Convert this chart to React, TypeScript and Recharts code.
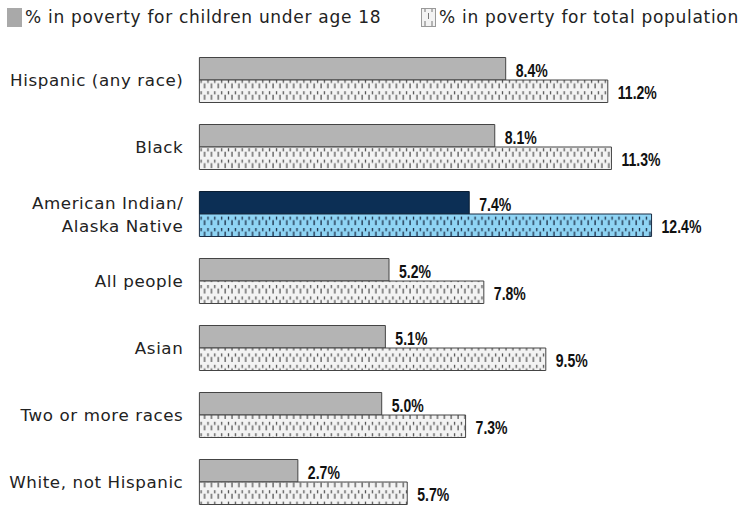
import { BarChart, Bar, XAxis, YAxis, Cell, LabelList } from "recharts";

const categories = [
  "Hispanic (any race)",
  "Black",
  "American Indian/ Alaska Native",
  "All people",
  "Asian",
  "Two or more races",
  "White, not Hispanic",
];
const childrenPct = [8.4, 8.1, 7.4, 5.2, 5.1, 5.0, 2.7];
const totalPct = [11.2, 11.3, 12.4, 7.8, 9.5, 7.3, 5.7];
const highlight = "American Indian/ Alaska Native";

const data = categories.map((name, i) => ({
  name,
  children: childrenPct[i],
  total: totalPct[i],
}));

const labelFont = "'DejaVu Sans', 'Open Sans', sans-serif";

function CategoryTick(props: any) {
  const { x, y, payload } = props;
  const text: string = payload.value;
  const lines = text.includes("/ ") ? [text.split("/ ")[0] + "/", text.split("/ ")[1]] : [text];
  const lh = 23;
  const start = y - ((lines.length - 1) * lh) / 2;
  return (
    <text
      x={x}
      y={start}
      textAnchor="end"
      fill="#222"
      fontSize={16.7}
      letterSpacing={0.6}
      fontFamily={labelFont}
      dominantBaseline="central"
    >
      {lines.map((l, i) => (
        <tspan key={i} x={x} dy={i === 0 ? 0 : lh}>
          {l}
        </tspan>
      ))}
    </text>
  );
}

function ValueLabel(props: any) {
  const { x, y, width, height, value } = props;
  return (
    <text
      transform={`translate(${x + width + 10},${y + height / 2 + 1.5}) scale(0.74,1)`}
      x={0}
      y={0}
      fill="#111"
      fontSize={19}
      fontWeight="bold"
      fontFamily="'Liberation Sans', Arial, sans-serif"
      dominantBaseline="central"
    >
      {`${Number(value).toFixed(1)}%`}
    </text>
  );
}

function PatternDefs() {
  const ticks = (color: string, bg: string, id: string) => (
    <pattern id={id} width={13.7} height={11.4} patternUnits="userSpaceOnUse">
      <rect x={0} y={0} width={13.7} height={11.4} fill={bg} />
      <line x1={2.5} y1={0} x2={2.5} y2={3.2} stroke={color} strokeWidth={1.3} />
      <line x1={6} y1={3.5} x2={6} y2={8.5} stroke={color} strokeWidth={1.3} />
      <line x1={9.3} y1={0} x2={9.3} y2={3.2} stroke={color} strokeWidth={1.3} />
      <line x1={12.8} y1={3.5} x2={12.8} y2={8.5} stroke={color} strokeWidth={1.3} />
    </pattern>
  );
  return (
    <defs>
      {ticks("#555", "#f3f3f3", "grayDash")}
      {ticks("#1a2c44", "#8fd4f4", "blueDash")}
    </defs>
  );
}

function Legend() {
  const item = (fill: string, label: string, left: number) => (
    <div style={{ position: "absolute", left, top: 7, display: "flex", alignItems: "center" }}>
      <svg width={15} height={19} style={{ marginRight: 3 }}>
        {fill === "pattern" ? (
          <g>
            <rect x={0.5} y={0.5} width={14} height={18} fill="#f3f3f3" stroke="#999" />
            <line x1={4} y1={1} x2={4} y2={4} stroke="#777" />
            <line x1={7.5} y1={5} x2={7.5} y2={11} stroke="#777" />
            <line x1={11} y1={1} x2={11} y2={4} stroke="#777" />
            <line x1={4} y1={13} x2={4} y2={18} stroke="#777" />
            <line x1={11} y1={13} x2={11} y2={18} stroke="#777" />
          </g>
        ) : (
          <rect x={0} y={0} width={15} height={19} fill={fill} />
        )}
      </svg>
      <span
        style={{
          fontFamily: labelFont,
          fontSize: 17,
          letterSpacing: 0.7,
          color: "#222",
          whiteSpace: "nowrap",
        }}
      >
        {label}
      </span>
    </div>
  );
  return (
    <>
      {item("#a9a9a9", "% in poverty for children under age 18", 7)}
      {item("pattern", "% in poverty for total population", 421)}
    </>
  );
}

export default function App() {
  return (
    <div
      style={{
        position: "absolute",
        left: 0,
        top: 0,
        width: 750,
        height: 512,
        background: "#fff",
      }}
    >
      <Legend />
      <BarChart
        width={750}
        height={512}
        data={data}
        layout="vertical"
        margin={{ top: 46.5, right: 0, bottom: -3.5, left: 0 }}
        barGap={0}
        barSize={22.5}
        style={{ position: "absolute", left: 0, top: 0 }}
      >
        <PatternDefs />
        <XAxis type="number" domain={[0, 15.1]} hide />
        <YAxis
          type="category"
          dataKey="name"
          width={199.4}
          axisLine={false}
          tickLine={false}
          tick={<CategoryTick />}
          tickMargin={10}
          interval={0}
        />
        <Bar dataKey="children" isAnimationActive={false} stroke="#333" strokeWidth={1}>
          {data.map((d) => (
            <Cell
              key={d.name}
              fill={d.name === highlight ? "#0c2f55" : "#b4b4b4"}
              stroke={d.name === highlight ? "#0a1e33" : "#444"}
            />
          ))}
          <LabelList dataKey="children" content={<ValueLabel />} />
        </Bar>
        <Bar dataKey="total" isAnimationActive={false} stroke="#333" strokeWidth={1}>
          {data.map((d) => (
            <Cell
              key={d.name}
              fill={d.name === highlight ? "url(#blueDash)" : "url(#grayDash)"}
              stroke={d.name === highlight ? "#1a2c44" : "#444"}
            />
          ))}
          <LabelList dataKey="total" content={<ValueLabel />} />
        </Bar>
      </BarChart>
    </div>
  );
}
